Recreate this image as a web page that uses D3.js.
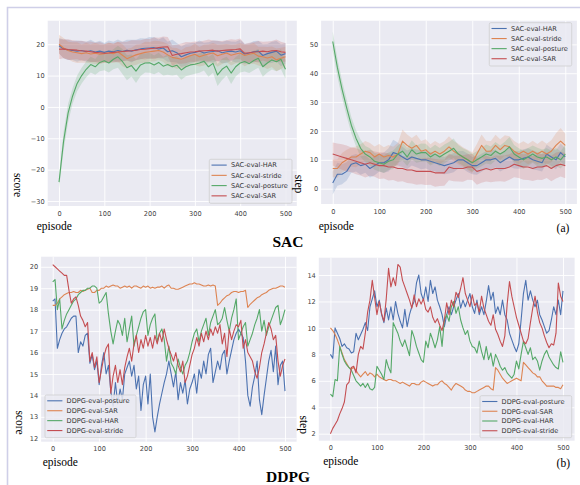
<!DOCTYPE html>
<html>
<head>
<meta charset="utf-8">
<script src="https://cdn.jsdelivr.net/npm/d3@7"></script>
<style>
  body { margin: 0; background: #fff; }
  svg { display: block; }
</style>
</head>
<body>
<div id="chart"></div>
<script>
// ---- data ----
// SAC runs: one value every 10 episodes (0..500)
const sacScoreHar = [19.5,18.5,18.2,18.0,17.8,18.0,17.6,17.9,17.5,17.8,17.4,17.8,17.6,18.0,17.7,18.1,17.8,18.2,18.5,18.7,18.8,18.9,18.5,18.8,17.6,17.9,17.3,16.0,16.6,17.1,17.4,17.8,17.2,17.5,17.7,17.9,17.3,17.6,17.8,17.5,17.9,16.9,17.2,17.6,17.8,16.4,17.0,17.4,17.8,16.5,17.0];
const sacScoreStride = [20.0,18.8,18.0,17.5,17.3,17.0,17.3,16.9,17.1,16.8,17.0,17.3,17.0,17.6,16.5,15.4,16.0,16.6,17.0,17.4,17.6,17.8,18.0,17.5,16.6,15.8,15.5,15.2,15.8,16.3,16.8,16.0,16.5,16.9,17.2,16.3,16.8,17.2,16.5,16.9,17.2,16.4,16.8,17.1,16.2,16.0,15.6,16.0,15.0,15.5,16.0];
const sacScorePosture = [-24.0,-11.0,-2.0,3.5,7.5,10.0,12.0,13.5,12.8,14.2,14.7,14.0,15.2,16.0,14.5,12.5,13.2,11.4,13.4,14.0,14.1,13.4,14.2,13.0,13.5,12.8,13.3,11.8,12.8,13.4,13.6,14.0,14.6,12.8,13.9,10.2,12.0,13.0,10.8,12.8,14.0,14.5,13.8,14.8,15.5,12.8,14.0,15.0,14.4,15.2,12.0];
const sacScoreSar = [18.4,18.5,18.3,18.2,18.1,17.9,17.8,17.6,17.4,17.3,17.1,17.2,17.4,17.5,17.7,17.8,17.9,18.1,18.3,18.4,18.6,18.7,18.9,19.1,19.2,16.4,16.8,17.0,17.3,17.5,17.6,17.8,17.9,18.0,18.1,17.8,18.0,18.1,18.2,18.3,18.5,17.1,17.3,17.5,17.6,17.8,17.6,17.9,18.0,17.6,17.4];
// half width of the shaded band around each SAC curve
const sacScoreHarBand = [2.5,3.0,3.2,3.0,3.4,3.0,3.2,3.5,3.1,3.3,3.0,3.4,3.2,3.5,3.1,3.3,3.6,3.2,3.4,3.1,3.5,3.3,3.0,3.4,3.2,3.6,3.1,3.3,3.5,3.2,3.0,3.4,3.3,3.1,3.5,3.2,3.4,3.6,3.1,3.3,3.5,3.2,3.0,3.4,3.3,3.6,3.1,3.4,3.2,3.5,3.3];
const sacScoreStrideBand = [3.0,3.2,2.8,3.1,3.3,2.9,3.2,3.0,3.4,3.1,2.9,3.3,3.0,3.2,3.5,3.1,2.9,3.2,3.0,3.4,3.1,3.3,3.0,3.2,3.5,3.1,3.3,2.9,3.2,3.0,3.4,3.1,3.3,3.0,3.2,3.5,3.1,2.9,3.3,3.0,3.2,3.4,3.1,3.3,3.0,3.2,3.5,3.3,3.6,3.4,3.2];
const sacScorePostureBand = [2.0,3.0,3.0,2.5,2.5,2.5,2.5,2.5,2.5,2.8,3.0,3.0,3.2,3.5,4.0,4.0,3.5,3.8,3.5,3.0,3.2,3.0,3.1,3.0,3.2,2.8,3.0,3.1,3.0,3.2,3.0,3.1,3.0,3.2,3.0,3.5,3.4,3.0,3.5,3.1,3.0,3.2,3.0,3.1,3.0,3.2,3.0,3.1,3.0,3.2,3.0];
const sacScoreSarBand = [3.2,3.0,3.3,3.1,2.9,3.2,3.0,3.3,3.1,3.4,3.0,3.2,2.9,3.3,3.1,3.0,3.4,3.2,3.0,3.3,3.1,3.5,3.2,3.4,3.1,3.3,3.0,3.2,3.4,3.1,3.3,3.0,3.2,3.5,3.1,3.3,3.0,3.2,3.4,3.1,3.3,3.0,3.2,3.1,3.4,3.0,3.3,3.1,3.5,3.2,3.0];

const sacStepHar = [2.0,5.0,5.0,6.0,8.5,9.0,8.0,8.5,7.0,8.0,9.0,9.0,10.0,12.5,12.0,11.0,10.0,11.0,10.5,10.0,10.0,9.5,9.0,8.5,8.0,8.5,9.0,10.0,10.0,9.0,8.0,8.0,9.0,10.0,10.0,10.5,9.0,10.0,11.0,10.0,10.0,10.5,11.0,10.0,9.5,9.0,12.0,11.0,10.0,12.5,11.0];
const sacStepStride = [7.0,7.0,9.0,10.0,11.0,11.0,12.0,13.0,12.5,11.0,12.0,11.0,11.5,11.0,12.0,16.5,15.0,14.0,15.0,13.0,13.5,12.0,13.0,12.0,13.0,14.5,13.0,12.0,11.0,10.0,9.0,12.0,15.0,13.0,13.0,15.0,13.5,15.0,14.5,13.0,12.0,13.0,12.0,13.0,12.0,13.0,12.0,13.0,15.0,16.5,15.0];
const sacStepPosture = [51.0,42.0,34.5,28.0,22.0,17.5,14.0,12.0,11.0,9.5,9.0,8.5,9.5,10.0,12.0,13.0,11.0,13.5,12.0,12.5,12.5,11.0,12.0,11.0,12.0,13.0,14.0,12.0,11.0,10.0,9.0,10.0,11.0,12.0,11.5,13.0,12.0,13.0,14.5,12.0,11.0,10.0,11.0,12.0,11.0,10.5,11.0,10.0,11.0,10.0,12.0];
const sacStepSar = [12.0,11.5,11.0,10.5,10.0,9.5,9.0,8.5,9.0,8.5,8.0,8.0,7.5,7.5,7.0,7.0,6.5,6.5,6.0,6.0,6.0,6.0,5.5,5.5,5.5,7.5,7.0,7.0,7.0,7.5,7.5,6.0,6.5,7.0,6.5,7.0,7.0,7.0,7.5,8.5,8.0,7.5,7.5,7.0,7.5,7.5,8.0,7.0,8.0,8.5,8.0];
const sacStepHarBand = [4.0,4.0,3.5,3.2,3.0,3.0,3.2,3.0,3.1,3.3,3.0,3.5,4.0,4.5,4.0,3.5,3.2,3.0,3.1,3.3,3.0,3.2,3.0,3.1,3.0,3.2,3.3,3.0,3.1,3.2,3.0,3.2,3.1,3.0,3.3,3.1,3.0,3.2,3.3,3.0,3.1,3.2,3.0,3.3,3.1,3.0,3.2,3.1,3.3,3.2,3.0];
const sacStepStrideBand = [3.0,3.2,3.4,3.5,3.3,3.6,3.4,3.5,3.3,3.6,3.5,3.4,3.6,3.5,3.8,4.0,3.8,3.6,3.7,3.5,3.6,3.4,3.5,3.6,3.4,3.7,3.5,3.6,3.4,3.5,3.6,3.5,3.8,3.6,3.5,3.7,3.6,3.5,3.7,3.5,3.6,3.4,3.5,3.6,3.5,3.7,3.6,3.8,4.2,4.5,4.0];
const sacStepPostureBand = [3.5,3.2,3.0,3.0,2.8,2.8,3.0,2.8,3.0,2.9,3.0,3.1,3.0,3.2,3.0,3.2,3.1,3.3,3.0,3.2,3.1,3.0,3.2,3.1,3.3,3.2,3.4,3.1,3.0,3.2,3.1,3.0,3.2,3.3,3.1,3.2,3.0,3.3,3.4,3.1,3.0,3.2,3.1,3.0,3.2,3.1,3.0,3.2,3.1,3.0,3.2];
const sacStepSarBand = [4.0,4.2,4.4,4.5,4.3,4.5,4.4,4.6,4.5,4.4,4.6,4.5,4.7,4.5,4.6,4.4,4.5,4.7,4.6,4.5,4.7,4.6,4.8,4.6,4.5,4.6,4.4,4.5,4.6,4.4,4.5,4.6,4.4,4.5,4.3,4.5,4.4,4.6,4.4,4.5,4.3,4.4,4.5,4.3,4.4,4.5,4.3,4.4,4.5,4.3,4.4];

// DDPG runs: one value every 5 episodes (0..500)
const ddpgScorePosture = [18.4,18.5,16.2,16.6,16.9,17.1,17.2,17.4,17.6,17.7,17.7,16.0,16.5,16.3,16.8,16.9,15.5,15.9,15.2,15.6,14.5,15.4,16.0,15.0,15.4,14.2,13.5,14.6,13.6,14.3,13.8,15.0,15.3,15.6,14.9,15.4,14.3,14.9,13.3,14.5,14.9,13.6,15.0,13.0,12.3,13.0,13.6,14.1,14.6,15.0,15.6,15.0,14.4,15.1,13.8,14.6,14.1,14.7,13.6,14.3,14.6,15.0,14.1,15.2,14.8,15.6,15.0,15.9,16.2,14.6,15.1,15.6,15.2,15.9,16.1,15.0,15.6,16.1,16.6,16.9,17.1,16.9,16.7,15.6,14.0,13.5,14.4,14.9,15.6,13.8,13.1,14.0,14.8,15.6,16.1,15.1,16.3,14.5,15.4,15.6,14.2];
const ddpgScoreSar = [18.2,18.2,18.3,18.5,18.6,18.7,18.75,18.8,18.8,18.85,18.8,18.8,18.9,18.85,18.9,18.95,19.0,18.8,18.8,18.9,18.9,19.0,19.0,19.1,19.05,19.1,19.15,19.1,19.1,19.0,19.05,19.1,19.05,19.1,19.0,19.1,19.1,19.05,19.0,19.1,19.05,19.1,19.0,19.05,19.0,19.05,19.05,19.1,19.0,19.1,19.15,19.0,19.0,18.95,18.95,19.0,19.05,19.1,19.15,19.2,19.2,19.25,19.2,19.2,19.15,19.1,19.1,19.15,19.1,19.15,19.1,18.2,18.3,18.45,18.55,18.65,18.7,18.8,18.85,18.85,18.8,18.85,18.85,18.9,18.1,18.25,18.35,18.45,18.55,18.6,18.7,18.75,18.8,18.9,18.95,19.0,19.0,19.05,19.1,19.1,19.05];
const ddpgScoreHar = [19.3,19.4,18.0,18.5,17.1,17.5,17.8,18.0,18.2,18.4,18.5,18.7,18.8,18.9,18.9,19.0,19.0,19.1,19.1,19.0,18.3,18.4,18.6,18.8,17.8,17.0,16.4,17.0,17.5,17.3,16.8,17.6,16.5,17.1,17.7,16.3,16.8,17.2,17.6,17.9,18.0,16.8,17.3,17.6,17.8,16.5,16.9,17.1,16.6,15.6,16.3,15.5,15.3,15.0,15.7,15.3,15.0,15.4,15.6,16.0,16.5,16.9,17.1,16.5,17.0,17.3,17.6,16.8,17.4,17.7,18.0,17.3,17.4,17.6,18.1,17.5,17.0,17.6,18.0,18.5,16.6,16.9,17.2,17.4,16.3,16.6,16.9,17.3,17.6,18.0,17.0,17.5,16.8,17.2,17.5,17.8,18.1,18.2,17.3,17.6,18.0];
const ddpgScoreStride = [20.1,20.0,19.9,19.8,19.7,19.6,19.6,18.9,18.3,18.5,18.6,18.2,17.7,17.5,17.2,17.4,15.6,16.0,15.3,15.8,14.6,15.2,15.8,16.2,16.4,14.1,14.9,15.4,14.6,15.2,14.5,15.3,15.8,16.2,15.6,16.4,16.8,16.0,16.6,16.2,16.8,16.3,16.7,16.2,16.8,16.4,16.9,16.5,17.1,16.6,16.2,15.9,15.6,16.0,15.4,15.1,15.6,14.6,14.9,15.4,15.9,16.2,16.7,16.3,16.9,16.5,17.0,16.6,17.1,16.8,17.2,16.9,17.3,16.4,16.9,15.8,17.1,16.6,17.0,17.3,17.2,17.5,16.2,16.6,16.0,15.8,15.6,15.1,14.8,15.3,16.0,16.4,16.9,17.4,17.1,16.6,16.8,15.6,14.9,15.4,15.7];

const ddpgStepPosture = [8.0,7.7,10.0,9.6,9.2,8.6,8.8,8.5,8.4,8.1,8.2,9.6,9.1,9.5,9.9,10.4,9.8,11.6,12.2,12.8,11.6,12.1,11.0,10.4,11.5,10.6,11.6,10.6,12.0,11.1,10.5,10.0,11.4,10.1,11.0,11.6,12.0,13.4,14.0,12.6,12.1,13.1,12.0,13.6,12.6,13.1,12.1,11.6,11.0,10.1,11.0,11.6,11.0,11.6,12.1,12.6,11.5,12.1,11.6,12.1,12.6,11.6,11.1,12.1,11.0,11.6,11.0,12.0,13.2,12.1,12.7,11.1,11.6,11.0,12.1,11.0,10.6,9.6,9.1,8.6,8.2,8.8,10.6,12.6,13.6,12.1,12.8,12.1,11.6,12.1,11.0,10.6,10.1,9.6,9.8,10.6,11.6,11.0,12.1,11.0,12.8];
const ddpgStepSar = [10.0,9.8,9.5,9.1,8.6,8.1,7.6,7.3,7.0,6.9,7.0,6.8,6.5,6.3,6.5,6.7,6.4,6.6,6.5,6.3,6.5,6.3,6.2,6.1,6.0,6.1,6.1,6.0,6.0,5.9,5.8,5.9,5.8,5.7,5.6,5.8,5.8,5.7,5.7,5.9,6.0,5.9,5.8,5.7,5.6,5.7,5.7,5.9,6.0,5.8,5.7,5.5,5.3,5.6,5.8,5.7,5.6,5.5,5.3,5.2,5.2,5.1,5.1,5.2,5.3,5.4,5.5,5.6,5.6,5.4,5.3,7.0,6.8,6.5,6.2,6.0,5.8,5.9,6.0,6.1,6.2,6.1,6.0,7.4,7.2,7.0,6.8,6.6,6.5,6.3,6.3,6.0,5.8,5.6,5.6,5.6,5.6,5.5,5.5,5.4,5.7];
const ddpgStepHar = [5.0,4.8,6.1,6.0,8.6,8.0,7.5,7.2,7.0,6.8,6.4,6.0,5.8,5.6,5.8,5.5,5.8,5.4,5.3,5.5,7.1,6.8,6.5,6.1,7.6,7.0,6.6,10.4,10.0,9.6,9.0,8.6,9.1,8.5,7.9,9.8,9.3,8.6,8.1,7.6,7.4,9.0,8.5,9.6,9.1,8.5,9.1,10.1,8.6,10.6,11.0,10.5,11.6,12.0,11.1,11.6,10.6,10.0,9.5,9.8,9.0,8.6,8.5,8.1,9.0,8.2,7.6,8.6,7.6,8.1,7.1,8.0,7.6,7.1,6.8,7.0,6.6,6.4,6.2,6.5,7.5,6.9,8.0,9.0,8.5,8.0,8.5,7.6,7.8,7.5,6.8,7.5,8.0,8.3,7.8,7.5,7.2,7.0,6.9,8.2,7.4];
const ddpgStepStride = [2.0,2.4,2.7,3.0,3.5,3.9,4.4,5.7,5.9,7.0,7.1,6.6,8.0,8.6,8.4,9.6,11.2,12.1,13.6,12.3,11.0,12.0,11.1,10.5,12.2,14.5,13.1,13.8,13.2,14.8,14.6,13.6,13.1,12.6,12.1,11.5,12.5,11.6,12.2,11.8,12.2,11.4,11.2,11.6,10.8,10.4,10.7,10.2,9.8,10.6,11.9,11.0,12.1,11.6,12.7,12.3,13.0,13.8,12.6,12.1,11.6,12.5,11.7,11.9,11.2,12.4,11.5,11.0,10.5,10.2,11.0,9.9,9.5,9.0,8.6,9.4,11.8,13.5,12.4,11.6,10.8,10.2,9.6,9.0,8.8,9.2,10.4,11.5,12.4,11.2,10.4,10.0,9.4,8.9,8.5,8.8,8.7,9.6,13.4,12.4,12.0];

// axis ticks
const episodeTicks = [0, 100, 200, 300, 400, 500];
const sacScoreTicks = [-30, -20, -10, 0, 10, 20];
const sacStepTicks = [0, 10, 20, 30, 40, 50];
const ddpgScoreTicks = [12, 13, 14, 15, 16, 17, 18, 19, 20];
const ddpgStepTicks = [2, 4, 6, 8, 10, 12, 14];

const sacEpisodes = d3.range(0, 501, 10);
const ddpgEpisodes = d3.range(0, 501, 5);

const colores = { blue: "#4c72b0", orange: "#dd8452", green: "#55a868", red: "#c44e52" };

// ---- panel layout ----
const paneles = [
  {
    left: 47.7, right: 296.8, top: 20.7, bottom: 206, yDomain: [-31.6, 27.5], yTicks: sacScoreTicks,
    episodes: sacEpisodes,
    series: [
      { name: "SAC-eval-HAR", color: colores.blue, values: sacScoreHar, band: sacScoreHarBand },
      { name: "SAC-eval-stride", color: colores.orange, values: sacScoreStride, band: sacScoreStrideBand },
      { name: "SAC-eval-posture", color: colores.green, values: sacScorePosture, band: sacScorePostureBand },
      { name: "SAC-eval-SAR", color: colores.red, values: sacScoreSar, band: sacScoreSarBand }
    ],
    legend: { x: 209.3, y: 159.3, w: 82.7, h: 44 },
    ylabel: "score", ylabelPos: [17.3, 185], xlabelPos: [54.2, 230], tag: "(a)", tagPos: [563, 232]
  },
  {
    left: 321.1, right: 576.9, top: 20.7, bottom: 204, yDomain: [-5.3, 58.2], yTicks: sacStepTicks,
    episodes: sacEpisodes,
    series: [
      { name: "SAC-eval-HAR", color: colores.blue, values: sacStepHar, band: sacStepHarBand },
      { name: "SAC-eval-stride", color: colores.orange, values: sacStepStride, band: sacStepStrideBand },
      { name: "SAC-eval-posture", color: colores.green, values: sacStepPosture, band: sacStepPostureBand },
      { name: "SAC-eval-SAR", color: colores.red, values: sacStepSar, band: sacStepSarBand }
    ],
    legend: { x: 489.3, y: 22.7, w: 82.4, h: 43.3 },
    ylabel: "step", ylabelPos: [298.4, 184], xlabelPos: [336.3, 230]
  },
  {
    left: 41.1, right: 296.6, top: 256.7, bottom: 441.7, yDomain: [11.84, 20.47], yTicks: ddpgScoreTicks,
    episodes: ddpgEpisodes,
    series: [
      { name: "DDPG-eval-posture", color: colores.blue, values: ddpgScorePosture },
      { name: "DDPG-eval-SAR", color: colores.orange, values: ddpgScoreSar },
      { name: "DDPG-eval-HAR", color: colores.green, values: ddpgScoreHar },
      { name: "DDPG-eval-stride", color: colores.red, values: ddpgScoreStride }
    ],
    legend: { x: 45, y: 395, w: 91, h: 42.7 },
    ylabel: "score", ylabelPos: [19, 422.5], xlabelPos: [60.3, 465.7]
  },
  {
    left: 318.8, right: 574.6, top: 257.7, bottom: 440.7, yDomain: [1.47, 15.31], yTicks: ddpgStepTicks,
    episodes: ddpgEpisodes,
    series: [
      { name: "DDPG-eval-posture", color: colores.blue, values: ddpgStepPosture },
      { name: "DDPG-eval-SAR", color: colores.orange, values: ddpgStepSar },
      { name: "DDPG-eval-HAR", color: colores.green, values: ddpgStepHar },
      { name: "DDPG-eval-stride", color: colores.red, values: ddpgStepStride }
    ],
    legend: { x: 480, y: 395.7, w: 91.7, h: 42 },
    ylabel: "step", ylabelPos: [303.3, 424.7], xlabelPos: [340.8, 464.5], tag: "(b)", tagPos: [563.3, 467]
  }
];

const fuenteEjes = "'DejaVu Sans', sans-serif";
const fuenteSerif = "'Liberation Serif', 'Times New Roman', serif";

const svg = d3.select("#chart")
  .append("svg")
  .attr("width", 580)
  .attr("height", 485);

svg.append("rect").attr("width", 580).attr("height", 485).attr("fill", "#fff");

// light frame (top and left edges)
svg.append("path")
  .attr("d", "M7.5,485 V7.5 H580")
  .attr("fill", "none")
  .attr("stroke", "#cfcfe8")
  .attr("stroke-width", 1.6);

paneles.forEach((p, idx) => {
  const x = d3.scaleLinear().domain([-25, 525]).range([p.left, p.right]);
  const y = d3.scaleLinear().domain(p.yDomain).range([p.bottom, p.top]);
  const g = svg.append("g");

  g.append("rect")
    .attr("x", p.left).attr("y", p.top)
    .attr("width", p.right - p.left).attr("height", p.bottom - p.top)
    .attr("fill", "#eaeaf2");

  // grid + tick labels
  const ejeX = g.append("g")
    .attr("transform", `translate(0,${p.bottom})`)
    .call(d3.axisBottom(x).tickValues(episodeTicks).tickSize(-(p.bottom - p.top)).tickPadding(5));
  const ejeY = g.append("g")
    .attr("transform", `translate(${p.left},0)`)
    .call(d3.axisLeft(y).tickValues(p.yTicks).tickSize(-(p.right - p.left)).tickPadding(3));
  [ejeX, ejeY].forEach(eje => {
    eje.select(".domain").remove();
    eje.selectAll("line").attr("stroke", "#fff").attr("stroke-width", 0.9);
    eje.selectAll("text")
      .attr("fill", "#444")
      .style("font-family", fuenteEjes)
      .style("font-size", "6.6px");
  });

  const clipId = "clip" + idx;
  g.append("clipPath").attr("id", clipId)
    .append("rect")
    .attr("x", p.left).attr("y", p.top)
    .attr("width", p.right - p.left).attr("height", p.bottom - p.top);

  const datos = g.append("g").attr("clip-path", `url(#${clipId})`);

  // shaded bands (SAC only)
  p.series.filter(s => s.band).forEach(s => {
    const area = d3.area()
      .x((d, i) => x(p.episodes[i]))
      .y0((d, i) => y(d - s.band[i]))
      .y1((d, i) => y(d + s.band[i]));
    datos.append("path")
      .datum(s.values)
      .attr("d", area)
      .attr("fill", s.color)
      .attr("fill-opacity", 0.2);
  });

  p.series.forEach(s => {
    const linea = d3.line()
      .x((d, i) => x(p.episodes[i]))
      .y(d => y(d));
    datos.append("path")
      .datum(s.values)
      .attr("d", linea)
      .attr("fill", "none")
      .attr("stroke", s.color)
      .attr("stroke-width", 1.1)
      .attr("stroke-linejoin", "round");
  });

  // legend
  const L = p.legend;
  const leyenda = g.append("g");
  leyenda.append("rect")
    .attr("x", L.x).attr("y", L.y).attr("width", L.w).attr("height", L.h)
    .attr("rx", 1.5)
    .attr("fill", "#eaeaf2").attr("fill-opacity", 0.85)
    .attr("stroke", "#cccccc").attr("stroke-width", 0.7);
  const paso = (L.h - 3) / 4;
  p.series.forEach((s, i) => {
    const yy = L.y + 5.8 + i * paso * 1.0;
    leyenda.append("line")
      .attr("x1", L.x + 2.2).attr("x2", L.x + 17.4)
      .attr("y1", yy).attr("y2", yy)
      .attr("stroke", s.color).attr("stroke-width", 1.1);
    leyenda.append("text")
      .attr("x", L.x + 21.6).attr("y", yy)
      .attr("dy", "0.35em")
      .attr("fill", "#333")
      .style("font-family", fuenteEjes)
      .style("font-size", "6.6px")
      .text(s.name);
  });

  // axis labels
  g.append("text")
    .attr("x", p.xlabelPos[0]).attr("y", p.xlabelPos[1])
    .attr("text-anchor", "middle")
    .style("font-family", fuenteSerif)
    .style("font-size", "11.5px")
    .text("episode");

  g.append("text")
    .attr("transform", `translate(${p.ylabelPos[0]},${p.ylabelPos[1]}) rotate(90)`)
    .attr("text-anchor", "middle")
    .attr("dy", "0.3em")
    .style("font-family", fuenteSerif)
    .style("font-size", "11.5px")
    .text(p.ylabel);

  if (p.tag) {
    g.append("text")
      .attr("x", p.tagPos[0]).attr("y", p.tagPos[1])
      .attr("text-anchor", "middle")
      .style("font-family", fuenteSerif)
      .style("font-size", "11.5px")
      .text(p.tag);
  }
});

// group titles
[["SAC", 247.3], ["DDPG", 481.5]].forEach(([t, yy]) => {
  svg.append("text")
    .attr("x", 288).attr("y", yy)
    .attr("text-anchor", "middle")
    .style("font-family", fuenteSerif)
    .style("font-size", "15.5px")
    .style("font-weight", "bold")
    .text(t);
});
</script>
</body>
</html>
